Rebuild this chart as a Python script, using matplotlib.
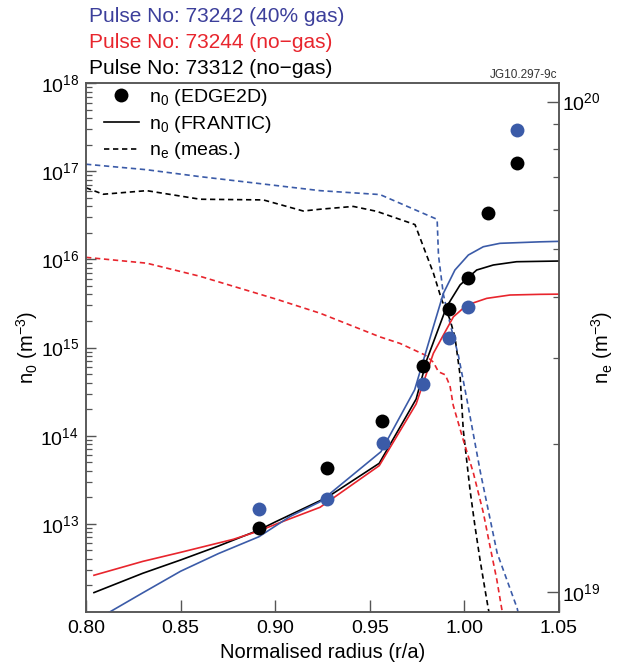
import matplotlib
matplotlib.use("Agg")
import matplotlib.pyplot as plt
from matplotlib.lines import Line2D
from matplotlib.ticker import LogLocator, FixedLocator, NullFormatter, FormatStrFormatter

plt.rcParams['font.family'] = ['Liberation Sans', 'DejaVu Sans']
plt.rcParams['mathtext.fontset'] = 'custom'
plt.rcParams['mathtext.rm'] = 'Liberation Sans'
plt.rcParams['mathtext.it'] = 'Liberation Sans:italic'
plt.rcParams['mathtext.default'] = 'regular'

BLUE = "#3b5ba8"
BLUE_TXT = "#3c3f9b"
RED = "#e8252d"
BLACK = "#000000"

# EDGE2D neutral density (left axis)
edge_x_73312 = [0.8914, 0.9275, 0.9566, 0.9783, 0.9920, 1.0017, 1.0126, 1.0280]
edge_n0_73312 = [9.04e12, 4.27e13, 1.47e14, 6.17e14, 2.71e15, 6.10e15, 3.38e16, 1.23e17]
edge_x_73242 = [0.8914, 0.9275, 0.9568, 0.9783, 0.9920, 1.0017, 1.0280]
edge_n0_73242 = [1.46e13, 1.91e13, 8.20e13, 3.85e14, 1.27e15, 2.90e15, 2.93e17]

# FRANTIC neutral density (left axis)
fr_x_73312 = [0.8042, 0.83, 0.85, 0.87, 0.8914, 0.9, 0.9275, 0.955, 0.9745, 0.9801,
              0.9906, 0.9977, 1.0065, 1.0153, 1.0276, 1.05]
fr_n0_73312 = [1.66e12, 2.75e12, 3.89e12, 5.6e12, 8.51e12, 1.05e13, 2.0e13, 4.86e13,
               2.6e14, 7.21e14, 2.90e15, 5.12e15, 7.57e15, 8.63e15, 9.40e15, 9.57e15]
fr_x_73244 = [0.8042, 0.83, 0.85, 0.8779, 0.8914, 0.9008, 0.9237, 0.955, 0.9745,
              0.9836, 0.9942, 1.0013, 1.0118, 1.0241, 1.04, 1.05]
fr_n0_73244 = [2.61e12, 3.75e12, 4.75e12, 6.68e12, 8.3e12, 1.0e13, 1.54e13, 4.57e13,
               2.29e14, 8.59e14, 2.23e15, 3.03e15, 3.61e15, 3.94e15, 4.01e15, 4.03e15]
fr_x_73242 = [0.8113, 0.83, 0.85, 0.87, 0.8914, 0.9078, 0.9237, 0.9559, 0.9737,
              0.9836, 0.9889, 0.9950, 1.0021, 1.0100, 1.0188, 1.0400, 1.05]
fr_n0_73242 = [9.66e11, 1.65e12, 2.9e12, 4.6e12, 7.14e12, 1.21e13, 1.78e13, 6.58e13,
               3.31e14, 1.72e15, 4.12e15, 7.57e15, 1.12e16, 1.39e16, 1.52e16, 1.58e16,
               1.60e16]

# measured electron density (right axis)
ne_x_73242 = [0.80, 0.832, 0.86, 0.9237, 0.9554, 0.9856, 0.9863, 0.9889, 0.9926,
              0.9968, 1.0014, 1.0085, 1.0173, 1.0279, 1.03]
ne_73242 = [7.45e19, 7.26e19, 7.03e19, 6.58e19, 6.46e19, 5.75e19, 4.86e19, 4.04e19,
            3.50e19, 3.04e19, 2.46e19, 1.75e19, 1.20e19, 9.25e18, 8.5e18]
ne_x_73312 = [0.80, 0.8091, 0.8321, 0.8603, 0.8937, 0.9148, 0.9237, 0.9413, 0.9537,
              0.9739, 0.9783, 0.9836, 0.9880, 0.9924, 0.9950, 0.9977, 0.9994, 1.0030,
              1.0056, 1.0083, 1.0109, 1.0126, 1.0145]
ne_73312 = [6.67e19, 6.47e19, 6.58e19, 6.32e19, 6.30e19, 5.98e19, 6.03e19, 6.11e19,
            5.97e19, 5.61e19, 5.06e19, 4.47e19, 3.94e19, 3.59e19, 3.31e19, 2.77e19,
            2.14e19, 1.61e19, 1.36e19, 1.16e19, 1.01e19, 9.25e18, 8.5e18]
ne_x_73244 = [0.80, 0.8321, 0.8603, 0.9008, 0.9237, 0.9554, 0.966, 0.9792, 0.9836,
              0.9863, 0.9899, 0.9924, 0.9941, 0.9994, 1.0047, 1.0100, 1.0135, 1.0171,
              1.0197, 1.0215]
ne_73244 = [4.81e19, 4.68e19, 4.40e19, 3.95e19, 3.70e19, 3.31e19, 3.21e19, 3.04e19,
            2.94e19, 2.81e19, 2.77e19, 2.63e19, 2.40e19, 2.04e19, 1.75e19, 1.45e19,
            1.24e19, 1.06e19, 9.25e18, 8.51e18]

x_ticks = [0.80, 0.85, 0.90, 0.95, 1.00, 1.05]
n0_ticks = [1e13, 1e14, 1e15, 1e16, 1e17, 1e18]
ne_ticks = [1e19, 1e20]

fig = plt.figure(figsize=(6.4, 6.69), dpi=100)
ax = fig.add_axes([0.1344, 0.0852, 0.7390, 0.7907])
ax2 = ax.twinx()
ax.set_zorder(ax2.get_zorder() + 1)
ax.patch.set_visible(False)

dash = (0, (3.2, 2.2))
lw = 1.2
ax2.plot(ne_x_73312, ne_73312, color=BLACK, lw=lw, linestyle=dash)
ax2.plot(ne_x_73244, ne_73244, color=RED, lw=lw, linestyle=dash)
ax2.plot(ne_x_73242, ne_73242, color=BLUE, lw=lw, linestyle=dash)

ax.plot(fr_x_73312, fr_n0_73312, color=BLACK, lw=lw)
ax.plot(fr_x_73244, fr_n0_73244, color=RED, lw=lw)
ax.plot(fr_x_73242, fr_n0_73242, color=BLUE, lw=lw)

ax.plot(edge_x_73312, edge_n0_73312, 'o', color=BLACK, ms=10, mew=0)
ax.plot(edge_x_73242, edge_n0_73242, 'o', color=BLUE, ms=10, mew=0)

ax.set_xlim(0.80, 1.05)
ax.set_yscale('log')
ax.set_ylim(1e12, 1e18)
ax2.set_yscale('log')
ax2.set_ylim(9.09e18, 1.091e20)

spine_c = "#555555"
for a in (ax, ax2):
    for s in a.spines.values():
        s.set_color(spine_c)
        s.set_linewidth(1.1)

ax.xaxis.set_major_locator(FixedLocator(x_ticks))
ax.xaxis.set_major_formatter(FormatStrFormatter('%.2f'))
ax.tick_params(axis='x', direction='in', length=8.5, width=1.0, color=spine_c,
               labelsize=14, pad=6, top=False)
ax.yaxis.set_major_locator(FixedLocator(n0_ticks))
ax.yaxis.set_minor_locator(LogLocator(base=10, subs=range(2, 10), numticks=20))
ax.yaxis.set_minor_formatter(NullFormatter())
ax.tick_params(axis='y', which='major', direction='in', length=7, width=1.0,
               color=spine_c, labelsize=14, pad=5)
ax.tick_params(axis='y', which='minor', direction='in', length=4, width=0.9,
               color=spine_c)

ax2.yaxis.set_major_locator(FixedLocator(ne_ticks))
ax2.yaxis.set_minor_locator(LogLocator(base=10, subs=range(2, 10), numticks=20))
ax2.yaxis.set_minor_formatter(NullFormatter())
ax2.tick_params(axis='y', which='major', direction='in', length=9, width=1.0,
                color=spine_c, labelsize=14, pad=2)
ax2.tick_params(axis='y', which='minor', direction='in', length=4.5, width=0.9,
                color=spine_c)

ax.set_xlabel('Normalised radius (r/a)', fontsize=14.5, labelpad=4)
fig.text(27 / 640, 1 - 347 / 669, r'n$_0$ (m$^{-3}$)', fontsize=14.5,
         rotation=90, ha='center', va='center')
fig.text(602 / 640, 1 - 347 / 669, r'n$_e$ (m$^{-3}$)', fontsize=14.5,
         rotation=90, ha='center', va='center')

handles = [
    Line2D([], [], color=BLACK, marker='o', linestyle='none', ms=10, mew=0),
    Line2D([], [], color=BLACK, lw=lw),
    Line2D([], [], color=BLACK, lw=lw, linestyle=dash),
]
labels = [r'n$_0$ (EDGE2D)', r'n$_0$ (FRANTIC)', r'n$_e$ (meas.)']
ax.legend(handles, labels, loc='upper left', bbox_to_anchor=(0.038, 0.993),
          frameon=False, fontsize=14, handlelength=1.8, handletextpad=0.5,
          labelspacing=0.3, borderpad=0, borderaxespad=0)

fig.text(89 / 640, 1 - 16 / 669, 'Pulse No: 73242 (40% gas)', color=BLUE_TXT,
         fontsize=15, va='center', ha='left')
fig.text(89 / 640, 1 - 43 / 669, 'Pulse No: 73244 (no\u2212gas)', color=RED,
         fontsize=15, va='center', ha='left')
fig.text(89 / 640, 1 - 69 / 669, 'Pulse No: 73312 (no\u2212gas)', color=BLACK,
         fontsize=15, va='center', ha='left')
fig.text(557 / 640, 1 - 75.5 / 669, 'JG10.297-9c', color='#333333',
         fontsize=8.5, va='center', ha='right')

fig.savefig('out.png', dpi=100)
